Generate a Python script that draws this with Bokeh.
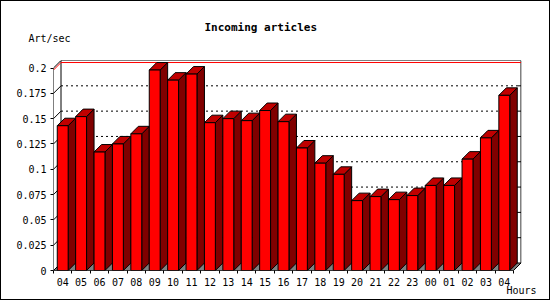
import numpy as np
from bokeh.plotting import figure
from bokeh.models import Range1d, FixedTicker, LinearAxis, Title
from bokeh.embed import file_html
from bokeh.resources import INLINE

# ---- data ----
hours = ["04", "05", "06", "07", "08", "09", "10", "11", "12", "13", "14", "15", "16",
         "17", "18", "19", "20", "21", "22", "23", "00", "01", "02", "03", "04"]
values = [0.143, 0.152, 0.117, 0.125, 0.135, 0.198, 0.188, 0.194, 0.146, 0.150, 0.148,
          0.158, 0.147, 0.121, 0.106, 0.095, 0.069, 0.073, 0.070, 0.074, 0.084, 0.084,
          0.110, 0.131, 0.173]
y_tick_labels = ["0", "0.025", "0.05", "0.075", "0.1", "0.125", "0.15", "0.175", "0.2"]
title_text = "Incoming articles"
y_title = "Art/sec"
x_title = "Hours"

# ---- geometry (pixels) ----
W, H = 550, 300
LEFT, TOP, BOTTOM = 53, 60, 30
FRAME_RIGHT = 521        # "Hours" is centred on the frame's right edge
CHART_RIGHT = 520.5      # back wall right edge
DEPTH = 7.5
N = len(hours)
y_ticks = [float(s) for s in y_tick_labels]
Y_MAX = y_ticks[-1]
frame_h = H - TOP - BOTTOM
slot_px = (CHART_RIGHT - LEFT - DEPTH) / N
ppu = (frame_h - DEPTH) / Y_MAX
DX = DEPTH / slot_px
DY = DEPTH / ppu
FONT = "DejaVu Sans Mono"

p = figure(width=W, height=H,
           x_range=Range1d(0, (FRAME_RIGHT - LEFT) / slot_px),
           y_range=Range1d(0, Y_MAX + DY),
           output_backend="svg", toolbar_location=None,
           min_border_left=LEFT, min_border_right=W - FRAME_RIGHT, min_border_top=TOP,
           min_border_bottom=BOTTOM, x_axis_type=None, y_axis_type=None)
p.outline_line_color = None
p.background_fill_color = None
p.border_fill_color = None
p.styles = {"box-shadow": "inset 0 0 0 1px black", "background-color": "white"}

# axes
yax = LinearAxis(ticker=FixedTicker(ticks=y_ticks, minor_ticks=[]))
yax.major_label_overrides = {float(v): s for v, s in zip(y_ticks, y_tick_labels)}
yax.axis_line_color = None
yax.major_tick_in = 0
yax.major_tick_out = 3
yax.major_tick_line_color = "black"
yax.major_label_standoff = 4
yax.major_label_text_font = FONT
yax.major_label_text_font_size = "10px"
yax.major_label_text_color = "black"
p.add_layout(yax, "left")

centers = [i + 0.5 for i in range(N)]
xax = LinearAxis(ticker=FixedTicker(ticks=centers, minor_ticks=list(range(N + 1))))
xax.major_label_overrides = {float(c): h for c, h in zip(centers, hours)}
xax.axis_line_color = None
xax.major_tick_line_color = None
xax.minor_tick_in = 0
xax.minor_tick_out = 3
xax.minor_tick_line_color = "black"
xax.major_label_standoff = 1
xax.major_label_text_font = FONT
xax.major_label_text_font_size = "10px"
xax.major_label_text_color = "black"
xax.axis_label = x_title
xax.axis_label_standoff = -4
xax.axis_label_align = "end"
xax.axis_label_text_font = FONT
xax.axis_label_text_font_size = "10px"
xax.axis_label_text_font_style = "normal"
xax.axis_label_text_color = "black"
p.add_layout(xax, "below")

# titles (first added sits closest to the frame)
p.add_layout(Title(text=y_title, align="left", offset=28 - LEFT, standoff=33,
                   text_font=FONT, text_font_size="10px", text_font_style="normal",
                   text_color="black"), "above")
p.add_layout(Title(text=title_text, align="left", offset=204 - LEFT, standoff=-39,
                   text_font=FONT, text_font_size="11px", text_font_style="bold",
                   text_color="black"), "above")

# floor
p.patch([0, N, N + DX, DX], [0, 0, DY, DY], fill_color="#808080", line_color="black", line_width=1)

# grid lines on back wall, stubs on left wall, ticks on right wall
for v in y_ticks[1:-1]:
    p.line([DX, N + DX], [v + DY, v + DY], line_color="black", line_dash="2 3", line_width=1)
    p.line([0, DX], [v, v + DY], line_color="black", line_width=1)
    p.line([N + DX - 3 / slot_px, N + DX], [v + DY, v + DY], line_color="black", line_width=1)

# walls
p.line([DX, DX], [DY, Y_MAX + DY], line_color="black")
p.line([0, DX, N + DX, N + DX, N], [Y_MAX, Y_MAX + DY, Y_MAX + DY, DY, 0], line_color="black")

# max line
vmax = max(values)
p.line([0, DX, N + DX], [vmax, vmax + DY, vmax + DY], line_color="red", line_width=1)

# bars
fw = 1 - DX
lefts = [c - fw / 2 for c in centers]
rights = [l + fw for l in lefts]
side_xs = [[r, r + DX, r + DX, r] for r in rights]
side_ys = [[0, DY, v + DY, v] for v in values]
top_xs = [[l, r, r + DX, l + DX] for l, r in zip(lefts, rights)]
top_ys = [[v, v, v + DY, v + DY] for v in values]
p.patches(side_xs, side_ys, fill_color="#800000", line_color="black", line_width=1)
p.patches(top_xs, top_ys, fill_color="#C00000", line_color="black", line_width=1)
p.quad(left=lefts, right=rights, bottom=0, top=values, fill_color="#FF0000",
       line_color="black", line_width=1)

# axis lines (front edges)
p.line([0, 0], [0, Y_MAX], line_color="black")
p.line([0, N], [0, 0], line_color="black")

open("out.html", "w").write(file_html(p, INLINE))
